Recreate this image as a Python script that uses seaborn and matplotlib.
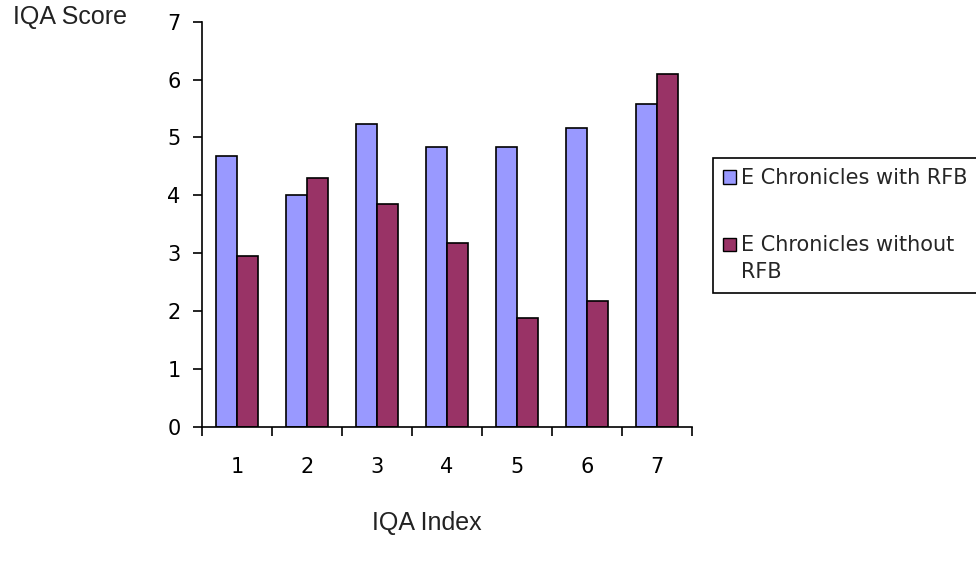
import matplotlib
matplotlib.use("Agg")
import matplotlib.pyplot as plt
import numpy as np
import pandas as pd
import seaborn as sns
from matplotlib.patches import Patch, Rectangle
from matplotlib.legend_handler import HandlerPatch
from matplotlib.ticker import FixedLocator

# IQA scores per index, two series
iqa_index = ["1", "2", "3", "4", "5", "6", "7"]
with_rfb = [4.68, 4.00, 5.23, 4.83, 4.83, 5.17, 5.57]
without_rfb = [2.95, 4.30, 3.85, 3.18, 1.87, 2.17, 6.10]
series_labels = ["E Chronicles with RFB", "E Chronicles without\nRFB"]
series_colors = ["#9999FF", "#993366"]

df = pd.DataFrame({
    "IQA Index": iqa_index * 2,
    "IQA Score": with_rfb + without_rfb,
    "series": [series_labels[0]] * len(iqa_index) + [series_labels[1]] * len(iqa_index),
})

sns.set_style("white")
plt.rcParams["font.family"] = ["DejaVu Sans"]

fig = plt.figure(figsize=(9.76, 5.65), dpi=100)
ax = fig.add_axes([0.207, 0.2448, 0.502, 0.7168])

sns.barplot(
    data=df, x="IQA Index", y="IQA Score", hue="series",
    hue_order=series_labels, palette=series_colors, saturation=1,
    width=0.59, edgecolor="black", linewidth=1.2, legend=False, ax=ax,
)

ax.set_ylim(0, 7)
ax.set_xlim(-0.5, 6.5)
ax.set_yticks(range(8))

sns.despine(ax=ax)
for side in ("left", "bottom"):
    ax.spines[side].set_color("black")
    ax.spines[side].set_linewidth(1.2)

ax.tick_params(axis="y", direction="out", length=6.5, width=1.2, pad=9,
               labelsize=15, left=True, colors="black")
ax.tick_params(axis="x", which="major", length=0, pad=22, labelsize=15,
               colors="black")
ax.xaxis.set_minor_locator(FixedLocator(np.arange(-0.5, 7, 1)))
ax.tick_params(axis="x", which="minor", direction="out", length=6.5,
               width=1.2, bottom=True, color="black")

ax.set_xlabel("IQA Index", fontsize=18, family="Liberation Sans", color="#222222")
ax.xaxis.label.set_va("center")
ax.xaxis.set_label_coords(0.459, -0.238)
ax.set_ylabel("IQA Score", fontsize=18, family="Liberation Sans", color="#222222",
              rotation=0, ha="center", va="center")
ax.yaxis.set_label_coords(-0.269, 1.0116)

# legend swatches; the wrapped label keeps its swatch on the first line
LEGEND_FS = 15
LINE_SPACING = 1.45


def first_line_swatch(n_lines):
    shift = (n_lines - 1) * LINE_SPACING * LEGEND_FS / 2

    def make(legend, orig_handle, xdescent, ydescent, width, height, fontsize):
        return Rectangle((-xdescent, -ydescent + shift), width, height)

    return HandlerPatch(patch_func=make)


handles = [Patch(facecolor=c, edgecolor="black", linewidth=1) for c in series_colors]
handler_map = {h: first_line_swatch(lbl.count("\n") + 1)
               for h, lbl in zip(handles, series_labels)}
leg = fig.legend(
    handles=handles, labels=series_labels, loc="upper left",
    bbox_to_anchor=(713 / 976, 1 - 158 / 565), bbox_transform=fig.transFigure,
    frameon=True, fancybox=False, edgecolor="black", framealpha=1,
    fontsize=LEGEND_FS, handlelength=0.6, handleheight=0.6, handletextpad=0.25,
    labelspacing=2.25, borderpad=0.5, borderaxespad=0, handler_map=handler_map,
)
for t in leg.get_texts():
    t.set_linespacing(LINE_SPACING)
leg.get_frame().set_linewidth(1.2)

fig.savefig("out.png", dpi=100)
